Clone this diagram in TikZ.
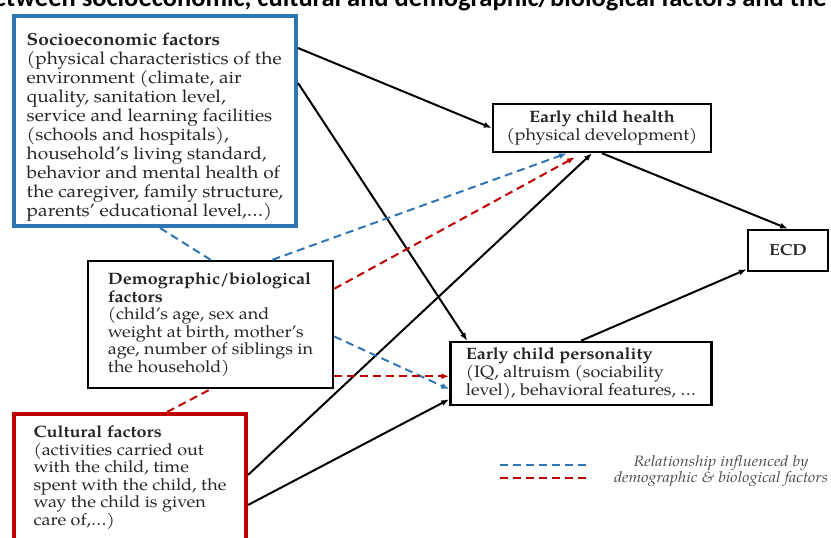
\documentclass[tikz,border=0pt]{standalone}
\usepackage{fontspec}
\setmainfont{texgyrepagella}[Extension=.otf, UprightFont=*-regular, BoldFont=*-bold, ItalicFont=*-italic, BoldItalicFont=*-bolditalic, FakeStretch=1.09]
\newfontfamily\titlefont{Carlito}
\usetikzlibrary{arrows.meta,positioning}
\definecolor{socioblue}{RGB}{46,117,182}
\definecolor{cultred}{RGB}{192,0,0}

\begin{document}
\begin{tikzpicture}[x=1pt, y=-1pt, >={Latex[length=8pt,width=6pt]},
  factor/.style={draw, rectangle, line width=4pt, align=left, inner sep=0pt, text=black!85},
  outcome/.style={draw, rectangle, line width=2.5pt, inner sep=0pt, text=black!85},
  arrow/.style={->, line width=2pt},
  relation/.style={line width=2pt, dash pattern=on 8pt off 5pt}]
\useasboundingbox (0,0) rectangle (831,538);
% cut-off caption line at the top
\node (title) [anchor=base east, font=\titlefont\bfseries\fontsize{26.5}{26.5}\selectfont] at (830,6.5) {between socioeconomic, cultural and demographic/biological factors and the};
% factor boxes
\node (socio) [factor, draw=socioblue, minimum width=282pt, minimum height=210pt, font=\fontsize{17.5}{19}\selectfont] at (155,121) {\rule{0pt}{25pt}\textbf{Socioeconomic factors}\\(physical characteristics of the\\environment (climate, air\\quality, sanitation level,\\service and learning facilities\\(schools and hospitals),\\household's living standard,\\behavior and mental health of\\the caregiver, family structure,\\parents' educational level,\ldots)};
\node (demo) [factor, line width=2.5pt, minimum width=245pt, minimum height=127pt, font=\fontsize{16.5}{17.5}\selectfont] at (210.5,324.5) {\textbf{Demographic/biological}\\\textbf{factors}\\(child's age, sex and\\weight at birth, mother's\\age, number of siblings in\\the household)};
\node (cult) [factor, draw=cultred, minimum width=232pt, minimum height=127pt, font=\fontsize{16.5}{17.5}\selectfont] at (130,477.5) {\textbf{Cultural factors}\\(activities carried out\\with the child, time\\spent with the child, the\\way the child is given\\care of,\ldots)};
% outcome boxes
\node (health) [outcome, align=center, minimum width=218pt, minimum height=48pt, font=\fontsize{16.5}{18}\selectfont] at (602,128) {\textbf{Early child health}\\(physical development)};
\node (ecd) [outcome, minimum width=80pt, minimum height=41pt, font=\fontsize{16}{18}\selectfont] at (788,250.5) {\textbf{ECD}};
\node (pers) [outcome, align=left, minimum width=261pt, minimum height=63pt, font=\fontsize{16.5}{18}\selectfont] at (581,373.5) {\textbf{Early child personality}\\(IQ, altruism (sociability\\level), behavioral features, \ldots};
% direct effects
\draw[arrow] ([yshift=-34pt]socio.north east) -- (health.west);
\draw[arrow] ([yshift=-69pt]socio.north east) -- ([xshift=18pt]pers.north west);
\draw[arrow] (health.south) -- (ecd.north);
\draw[arrow] (pers.north) -- ([yshift=3pt]ecd.south west);
\draw[arrow] ([yshift=-63pt]cult.north east) -- ([xshift=-10pt]health.south);
\draw[arrow] ([yshift=-93pt]cult.north east) -- ([yshift=7pt]pers.south west);
% relations through demographic/biological factors
\draw[relation, socioblue] ([xshift=5pt]socio.south) -- (demo.north);
\draw[relation, socioblue, ->] ([xshift=62pt]demo.north) -- ([xshift=-35pt]health.south);
\draw[relation, socioblue, ->] ([yshift=-12pt]demo.east) -- ([yshift=17pt]pers.south west);
\draw[relation, cultred, ->] ([yshift=-29pt]demo.north east) -- ([xshift=-27pt,yshift=-4pt]health.south);
\draw[relation, cultred, ->] ([yshift=13pt]demo.south east) -- ([yshift=30pt]pers.south west);
\draw[relation, cultred] ([xshift=37pt]cult.north) -- (demo.south);
% legend
\coordinate (blueA) at (500,465);
\coordinate (blueB) at (591,465);
\coordinate (redA) at (500,478);
\coordinate (redB) at (591,478);
\draw[relation, socioblue] (blueA) -- (blueB);
\draw[relation, cultred] (redA) -- (redB);
\node (legend) [align=center, font=\itshape\fontsize{15}{13}\selectfont, text=black!70] at (721,471.5) {Relationship influenced by\\demographic \& biological factors};
\end{tikzpicture}
\end{document}
